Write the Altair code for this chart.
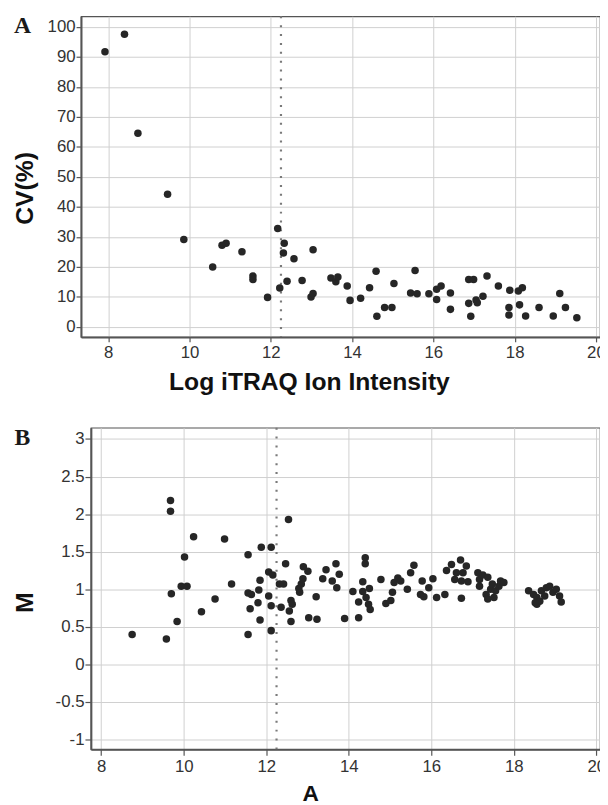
import altair as alt
import pandas as pd

# ---------------- data ----------------
# Panel A: CV(%) vs Log iTRAQ ion intensity
cv_x = [7.92, 8.40, 8.73, 9.46, 9.86, 10.57, 10.80, 10.90, 11.29, 11.56, 11.56, 11.92,
        12.17, 12.22, 12.33, 12.31, 12.40, 12.57, 12.77, 12.99, 13.04, 13.04, 13.48, 13.60,
        13.65, 13.88, 13.95, 14.21, 14.43, 14.59, 14.61, 14.80, 14.98, 15.03, 15.44, 15.55,
        15.60, 15.89, 16.08, 16.08, 16.19, 16.42, 16.42, 16.87, 16.99, 16.87, 16.92, 17.05,
        17.08, 17.22, 17.32, 17.60, 17.88, 17.86, 17.86, 18.09, 18.12, 18.19, 18.27, 18.60,
        18.95, 19.11, 19.25, 19.53]
cv_y = [91.8, 97.6, 64.6, 44.2, 29.1, 19.9, 27.2, 27.9, 25.0, 16.9, 15.8, 9.8,
        32.8, 12.9, 27.9, 24.6, 15.2, 22.7, 15.4, 9.9, 11.1, 25.7, 16.3, 15.0,
        16.6, 13.6, 8.8, 9.5, 13.0, 18.5, 3.5, 6.4, 6.4, 14.4, 11.3, 18.8,
        11.0, 11.0, 12.5, 9.1, 13.6, 11.3, 5.8, 15.8, 15.8, 7.8, 3.5, 8.9,
        8.0, 10.2, 16.9, 13.6, 12.2, 6.4, 3.9, 11.9, 7.3, 13.0, 3.6, 6.4,
        3.6, 11.1, 6.4, 3.0]

# Panel B: M vs A
m_x = [8.75, 9.58, 9.68, 9.68, 9.70, 9.84, 9.94, 10.02, 10.08, 10.24, 10.43, 10.76, 10.99, 11.16,
       11.56, 11.88, 12.12, 12.47, 12.06, 12.16, 11.85, 12.32, 12.42, 11.82, 11.56, 11.64, 12.06,
       11.80, 11.61, 12.12, 12.36, 12.56, 12.60, 12.63, 12.60, 11.85, 12.12, 11.56, 12.81, 12.85,
       12.89, 12.90, 13.01, 12.79, 13.21, 13.03, 13.23, 13.45, 13.69, 13.37, 13.60, 13.77, 13.71,
       13.90, 14.24, 14.40, 14.40, 14.34, 14.10, 14.34, 14.50, 14.24, 14.42, 14.48, 14.52, 14.78,
       14.90, 15.02, 15.06, 15.10, 15.19, 12.54,
       15.26, 15.42, 15.50, 15.58, 15.78, 15.74, 15.82, 15.94, 16.04, 16.13, 16.33, 16.37, 16.49,
       16.57, 16.61, 16.71, 16.77, 16.85, 16.73, 16.73, 16.89, 17.13, 17.17, 17.17, 17.25, 17.37,
       17.33, 17.37, 17.44, 17.48, 17.56, 17.64, 17.68, 17.76, 17.52, 18.36, 18.48, 18.56, 18.56,
       18.67, 18.75, 18.79, 18.87, 18.95, 19.03, 19.11, 19.15, 18.63, 18.52]
m_y = [0.40, 0.34, 2.18, 2.04, 0.94, 0.57, 1.04, 1.43, 1.04, 1.70, 0.70, 0.87, 1.67, 1.07,
       1.46, 1.56, 1.56, 1.34, 1.23, 1.19, 1.12, 1.07, 1.07, 0.99, 0.95, 0.93, 0.91,
       0.82, 0.74, 0.78, 0.76, 0.71, 0.85, 0.80, 0.57, 0.59, 0.45, 0.40, 0.96, 1.07,
       1.14, 1.30, 1.24, 1.01, 0.90, 0.62, 0.60, 1.26, 1.34, 1.14, 1.11, 1.20, 1.02,
       0.61, 0.62, 1.42, 1.34, 1.10, 0.97, 0.97, 1.01, 0.83, 0.89, 0.80, 0.73, 1.13,
       0.81, 0.85, 0.96, 1.09, 1.15, 1.93,
       1.11, 1.00, 1.22, 1.32, 1.11, 0.93, 0.90, 1.02, 1.14, 0.89, 0.93, 1.25, 1.33,
       1.13, 1.22, 1.39, 1.22, 1.31, 1.11, 0.88, 1.10, 1.22, 1.13, 1.04, 1.19, 1.16,
       0.93, 0.87, 1.00, 1.07, 0.98, 1.04, 1.11, 1.09, 0.89, 0.98, 0.93, 0.89, 0.80,
       0.98, 0.91, 1.02, 1.04, 0.96, 1.00, 0.91, 0.83, 0.84, 0.82]

cutoff = [12.25]
x_ticks = [8, 10, 12, 14, 16, 18, 20]
cv_ticks = [0, 10, 20, 30, 40, 50, 60, 70, 80, 90, 100]
m_ticks = [-1, -0.5, 0, 0.5, 1, 1.5, 2, 2.5, 3]

SANS = "Liberation Sans"
SERIF = "Liberation Serif"

dfA = pd.DataFrame({"x": cv_x, "y": cv_y})
dfB = pd.DataFrame({"x": m_x, "y": m_y})
dfC = pd.DataFrame({"x": cutoff})


def panel(df, xdom, ydom, yticks, xtitle, ytitle, w, h, letter, letter_x, letter_y,
          xtitle_x, xtitle_y, xtitle_size, ytitle_x, ytitle_y, tick_size):
    xs = alt.Scale(domain=xdom, nice=False, zero=False)
    ys = alt.Scale(domain=ydom, nice=False, zero=False)
    xaxis = alt.Axis(values=x_ticks, title=xtitle, titleX=xtitle_x, titleY=xtitle_y,
                     titleAlign="center", titleBaseline="alphabetic", titleFontSize=xtitle_size,
                     labelExpr="datum.value + ''", tickSize=tick_size, labelPadding=3)
    yaxis = alt.Axis(values=yticks, title=ytitle, titleX=ytitle_x, titleY=ytitle_y,
                     titleAngle=270, titleAlign="center", titleBaseline="alphabetic",
                     labelExpr="datum.value + ''", tickSize=tick_size, labelPadding=1)
    rule = alt.Chart(dfC).mark_rule(color="#7a7a7a", strokeDash=[2, 7], strokeWidth=2.2).encode(
        x=alt.X("x:Q", scale=xs, axis=xaxis)
    )
    pts = alt.Chart(df).mark_circle(size=58, color="#262626", opacity=1).encode(
        x=alt.X("x:Q", scale=xs, axis=xaxis),
        y=alt.Y("y:Q", scale=ys, axis=yaxis),
    )
    lab = alt.Chart(pd.DataFrame({"t": [letter]})).mark_text(
        font=SERIF, fontSize=24, fontWeight="bold", align="left", baseline="alphabetic",
        color="#1a1a1a"
    ).encode(text="t:N", x=alt.value(letter_x), y=alt.value(letter_y))
    return alt.layer(rule, pts, lab).properties(width=w, height=h)


def spacer(h):
    return alt.Chart(pd.DataFrame({"v": [0]})).mark_point(
        size=1, opacity=0, strokeWidth=0
    ).encode(x=alt.value(0), y=alt.value(0)).properties(
        width=1, height=h, view=alt.ViewBackground(strokeOpacity=0)
    )


chartA = panel(dfA, [7.33, 20.1], [-3.4, 103.6], cv_ticks, "Log iTRAQ Ion Intensity", "CV(%)",
               526, 325, "A", -68, 17, 231, 53, 25, -49.3, 174, 5)
chartB = panel(dfB, [7.75, 20.09], [-1.13, 3.15], m_ticks, "A", "M",
               516, 326, "B", -77.5, 18, 222.3, 52, 23, -59.3, 177, 6)

rowA = alt.hconcat(spacer(325), chartA, spacing=0)
rowB = alt.hconcat(spacer(326), chartB, spacing=0)

chart = alt.vconcat(rowA, rowB, spacing=31).properties(
    autosize=alt.AutoSizeParams(type="none"),
    padding={"left": 3, "top": 3, "right": 597, "bottom": 794},
).configure_view(
    stroke="#555", strokeWidth=1.2
).configure_axis(
    labelFont=SANS, labelFontSize=17, labelColor="#333",
    titleFont=SANS, titleFontSize=25, titleFontWeight="bold", titleColor="#111",
    gridColor="#cfcfcf", gridWidth=1,
    domainColor="#555", domainWidth=2, tickColor="#555", tickWidth=1.2,
)

chart.save("out.html", embed_options={"renderer": "svg", "actions": False})
